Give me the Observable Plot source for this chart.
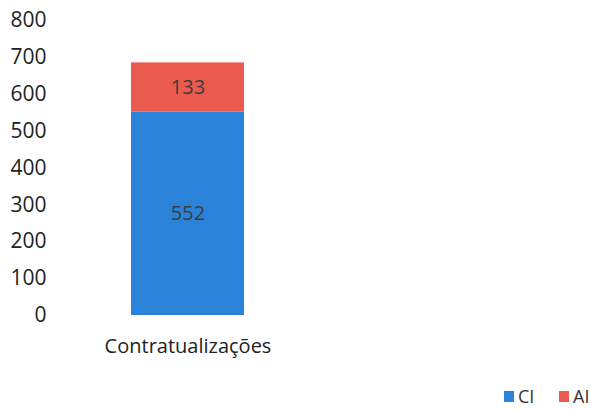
<!DOCTYPE html>
<html>
<head>
<meta charset="utf-8">
<script src="https://cdn.jsdelivr.net/npm/d3@7"></script>
<script src="https://cdn.jsdelivr.net/npm/@observablehq/plot@0.6"></script>
<style>
  html, body { margin: 0; padding: 0; background: #fff; }
  #chart { width: 591px; }
  .legend { position: relative; width: 591px; height: 30px; overflow: hidden; font-family: "Open Sans", sans-serif; font-size: 18px; color: #333; }
  .legend .item { position: absolute; top: 4px; white-space: nowrap; display: flex; align-items: center; }
  .legend .sw { display: inline-block; width: 10px; height: 11px; margin-right: 4px; }
</style>
</head>
<body>
<div id="chart"></div>
<script>
const categories = ["Contratualizações"];
const seriesNames = ["CI", "AI"];
const ciValues = [552];
const aiValues = [133];
const seriesColors = ["#2a83d8", "#eb5a4e"];
const yTicks = [0, 100, 200, 300, 400, 500, 600, 700, 800];

const data = [];
categories.forEach((c, i) => {
  data.push({category: c, series: "CI", value: ciValues[i]});
  data.push({category: c, series: "AI", value: aiValues[i]});
});

const plot = Plot.plot({
  width: 591,
  height: 380,
  marginLeft: 60,
  marginRight: 277,
  marginTop: 20,
  marginBottom: 65,
  style: {fontFamily: "Open Sans, sans-serif", fontSize: "20px", color: "#222", background: "#fff"},
  x: {domain: categories, padding: 0.384, label: null},
  y: {domain: [0, 800], label: null},
  color: {domain: seriesNames, range: seriesColors},
  marks: [
    Plot.barY(data, Plot.stackY({x: "category", y: "value", fill: "series", order: seriesNames})),
    Plot.text(data, Plot.stackY({x: "category", y: "value", z: "series", order: seriesNames, text: d => String(d.value), fill: "#3d3d3d", fontSize: 20})),
    Plot.axisY({ticks: yTicks, tickSize: 0, tickPadding: 14, fontSize: 21, label: null}),
    Plot.axisX({tickSize: 0, tickPadding: 23, fontSize: 20, label: null})
  ]
});
document.getElementById("chart").appendChild(plot);

const legend = document.createElement("div");
legend.className = "legend";
const lefts = [504, 559];
seriesNames.forEach((s, i) => {
  const item = document.createElement("div");
  item.className = "item";
  item.style.left = lefts[i] + "px";
  const sw = document.createElement("span");
  sw.className = "sw";
  sw.style.background = seriesColors[i];
  item.appendChild(sw);
  item.appendChild(document.createTextNode(s));
  legend.appendChild(item);
});
document.body.appendChild(legend);
</script>
</body>
</html>
